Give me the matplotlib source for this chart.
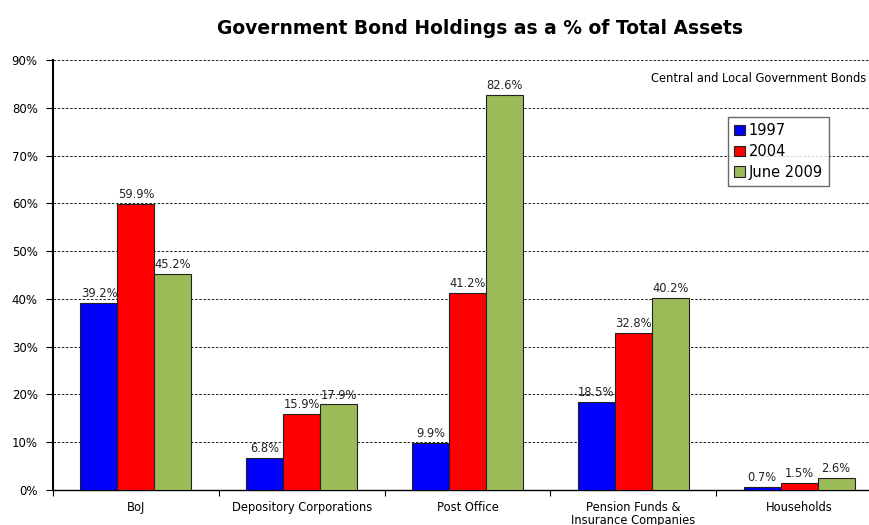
import numpy as np
import matplotlib
matplotlib.use("Agg")
import matplotlib.pyplot as plt
from matplotlib.ticker import FuncFormatter

categories = ["BoJ", "Depository Corporations", "Post Office",
              "Pension Funds &\nInsurance Companies", "Households"]
series_names = ["1997", "2004", "June 2009"]
vals_1997 = [39.2, 6.8, 9.9, 18.5, 0.7]
vals_2004 = [59.9, 15.9, 41.2, 32.8, 1.5]
vals_2009 = [45.2, 17.9, 82.6, 40.2, 2.6]
colors = ["#0000ff", "#ff0000", "#9bbb59"]

plt.rcParams["font.family"] = ["DejaVu Sans"]

fig = plt.figure(figsize=(8.69, 5.25), dpi=100)
ax = fig.add_axes([53 / 869, 35 / 525, (882 - 53) / 869, 430 / 525])

x = np.arange(len(categories))
w = 0.223
for i, (vals, name, c) in enumerate(zip([vals_1997, vals_2004, vals_2009], series_names, colors)):
    pos = x + (i - 1) * w
    ax.bar(pos, vals, width=w, color=c, edgecolor="#222222", linewidth=0.8, label=name, zorder=3)
    for px, v in zip(pos, vals):
        ax.text(px, v + 0.6, f"{v:.1f}%", ha="center", va="bottom", fontsize=8.3, color="#222222", zorder=4)

ax.set_xlim(-0.5, len(categories) - 0.5)
ax.set_ylim(0, 90)
ax.set_yticks(np.arange(0, 91, 10))
ax.yaxis.set_major_formatter(FuncFormatter(lambda v, p: f"{v:.0f}%"))
ax.grid(axis="y", color="black", linestyle=(0, (3, 2)), linewidth=0.6, zorder=0)

# category labels sit between boundary ticks
ax.set_xticks(np.arange(len(categories) + 1) - 0.5)
ax.set_xticklabels([])
ax.set_xticks(x, minor=True)
ax.set_xticklabels(categories, minor=True, fontsize=8.3, linespacing=0.95)
ax.tick_params(axis="x", which="minor", length=0, pad=8)
ax.tick_params(axis="x", which="major", length=4, direction="out")
ax.tick_params(axis="y", labelsize=8.5, direction="out", length=5, pad=6)

for s in ["top", "right"]:
    ax.spines[s].set_visible(False)
ax.spines["left"].set_linewidth(1.5)
ax.spines["bottom"].set_linewidth(1.0)

fig.text(0.552, 0.946, "Government Bond Holdings as a % of Total Assets",
         ha="center", va="center", fontsize=13.5, fontweight="bold")
fig.text(0.997, 0.851, "Central and Local Government Bonds", ha="right", va="center", fontsize=8.3)

leg = ax.legend(loc="upper left", bbox_to_anchor=(0.806, 0.884), fontsize=10.5,
                frameon=True, fancybox=False, edgecolor="#444444",
                handlelength=0.7, handleheight=0.7, handletextpad=0.3,
                borderpad=0.4, labelspacing=0.4)
leg.get_frame().set_linewidth(1.0)

fig.savefig("out.png", dpi=100)
